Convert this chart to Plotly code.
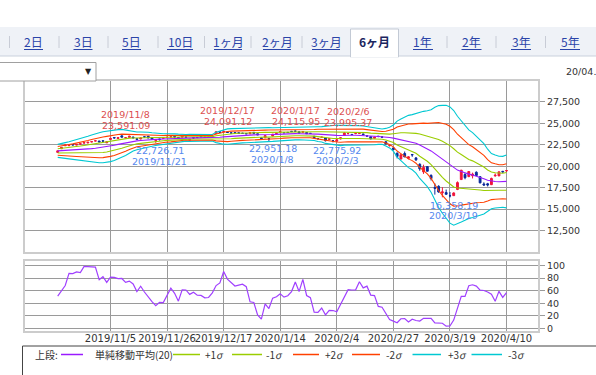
import plotly.graph_objects as go
import pandas as pd

# ---------------- data ----------------
dates = [
    "2019/10/11", "2019/10/15", "2019/10/16", "2019/10/17", "2019/10/18", "2019/10/21", "2019/10/23",
    "2019/10/24", "2019/10/25", "2019/10/28", "2019/10/29", "2019/10/30", "2019/10/31", "2019/11/1",
    "2019/11/5", "2019/11/6", "2019/11/7", "2019/11/8", "2019/11/11", "2019/11/12", "2019/11/13",
    "2019/11/14", "2019/11/15", "2019/11/18", "2019/11/19", "2019/11/20", "2019/11/21", "2019/11/22",
    "2019/11/25", "2019/11/26", "2019/11/27", "2019/11/28", "2019/11/29", "2019/12/2", "2019/12/3",
    "2019/12/4", "2019/12/5", "2019/12/6", "2019/12/9", "2019/12/10", "2019/12/11", "2019/12/12",
    "2019/12/13", "2019/12/16", "2019/12/17", "2019/12/18", "2019/12/19", "2019/12/20", "2019/12/23",
    "2019/12/24", "2019/12/25", "2019/12/26", "2019/12/27", "2019/12/30", "2020/1/6", "2020/1/7",
    "2020/1/8", "2020/1/9", "2020/1/10", "2020/1/14", "2020/1/15", "2020/1/16", "2020/1/17",
    "2020/1/20", "2020/1/21", "2020/1/22", "2020/1/23", "2020/1/24", "2020/1/27", "2020/1/28",
    "2020/1/29", "2020/1/30", "2020/1/31", "2020/2/3", "2020/2/4", "2020/2/5", "2020/2/6",
    "2020/2/7", "2020/2/10", "2020/2/12", "2020/2/13", "2020/2/14", "2020/2/17", "2020/2/18",
    "2020/2/19", "2020/2/20", "2020/2/21", "2020/2/25", "2020/2/26", "2020/2/27", "2020/2/28",
    "2020/3/2", "2020/3/3", "2020/3/4", "2020/3/5", "2020/3/6", "2020/3/9", "2020/3/10",
    "2020/3/11", "2020/3/12", "2020/3/13", "2020/3/16", "2020/3/17", "2020/3/18", "2020/3/19",
    "2020/3/23", "2020/3/24", "2020/3/25", "2020/3/26", "2020/3/27", "2020/3/30", "2020/3/31",
    "2020/4/1", "2020/4/2", "2020/4/3", "2020/4/6", "2020/4/7", "2020/4/8", "2020/4/9", "2020/4/10",
]
opens = [
    21613, 22036, 22392, 22398, 22513, 22467, 22579, 22697, 22714, 22833, 22935, 22948, 22971, 22734,
    23118, 23343, 23242, 23550, 23314, 23361, 23413, 23212, 23175, 23426, 23505, 23313, 23007, 23181,
    23258, 23373, 23427, 23464, 23348, 23388, 23413, 23042, 23327, 23364, 23520, 23375, 23407, 23499,
    23801, 24017, 24019, 24004, 23898, 23930, 23911, 23857, 23821, 23786, 23956, 23790, 23319, 23320,
    23217, 23530, 23813, 23969, 23918, 23959, 24074, 24093, 24022, 23952, 23936, 23834, 23494, 23224,
    23377, 23306, 23138, 22973, 22908, 23183, 23590, 23821, 23713, 23823, 23806, 23767, 23549, 23447,
    23263, 23491, 23427, 22863, 22404, 22137, 21510, 20834, 21483, 20918, 21372, 20970, 20226, 19343,
    19958, 18936, 17504, 17656, 16899, 16933, 16562, 16570, 17297, 18447, 19039, 18795, 18884, 19300,
    18784, 17934, 17952, 17857, 18878, 18874, 19406, 19466,
]
highs = [
    21815, 22219, 22497, 22532, 22549, 22564, 22661, 22779, 22808, 22896, 23008, 22948, 22971, 22901,
    23328, 23352, 23356, 23591.09, 23363, 23534, 23416, 23232, 23317, 23463, 23520, 23359, 23060, 23202,
    23350, 23409, 23608, 23486, 23350, 23544, 23430, 23152, 23336, 23379, 23543, 23441, 23425, 23500,
    24050, 24028, 24091.12, 24005, 23902, 23930, 23923, 23889, 23848, 23924, 23967, 23790, 23365, 23577,
    23303, 23767, 23903, 24059, 23997, 23977, 24115.95, 24107, 24060, 24059, 23953, 23880, 23494, 23291,
    23469, 23323, 23257, 23001, 23172, 23341, 23995.37, 23873, 23763, 23868, 23888, 23789, 23580, 23451,
    23430, 23506, 23430, 22892, 22540, 22176, 21622, 21344, 21719, 21180, 21399, 21079, 20346, 20180,
    19996, 19052, 18007, 17785, 17557, 17285, 16995, 16960, 18232, 19564, 19199, 19389, 19254, 19405,
    18784, 18132, 18059, 18672, 19162, 19353, 19454, 19535,
]
lows = [
    21579, 22029, 22358, 22390, 22426, 22447, 22523, 22650, 22694, 22801, 22910, 22775, 22809, 22705,
    23090, 23226, 23191, 23374, 23233, 23353, 23243, 23058, 23147, 23332, 23292, 23092, 22726.71, 22998,
    23227, 23293, 23346, 23386, 23239, 23379, 23315, 23045, 23202, 23271, 23423, 23319, 23332, 23416,
    23796, 23924, 24002, 23920, 23843, 23801, 23800, 23814, 23751, 23785, 23824, 23656, 23148, 23299,
    22951.18, 23506, 23761, 23943, 23837, 23878, 24012, 24044, 23831, 23936, 23764, 23761, 23256, 23115,
    23352, 22892, 23044, 22775.92, 22907, 23140, 23564, 23687, 23655, 23728, 23761, 23645, 23495, 23149,
    23263, 23380, 23318, 22559, 22292, 21948, 20916, 20834, 21082, 20798, 21100, 20613, 19472, 19104,
    19404, 18339, 16690, 16914, 16378, 16726, 16358.19, 16570, 17216, 18447, 18482, 18725, 18578, 18917,
    18004, 17707, 17646, 17802, 18785, 18874, 19241, 19332,
]
closes = [
    21798.87, 22207.21, 22472.92, 22451.86, 22492.68, 22548.90, 22625.38, 22750.60, 22799.81, 22867.27,
    22974.13, 22843.12, 22927.04, 22850.77, 23251.99, 23303.82, 23330.32, 23391.87, 23331.84, 23520.01,
    23319.87, 23141.55, 23303.32, 23416.76, 23292.65, 23148.57, 23038.58, 23112.88, 23292.81, 23373.32,
    23437.77, 23409.14, 23293.91, 23529.50, 23379.81, 23135.23, 23300.09, 23354.40, 23430.70, 23410.19,
    23391.86, 23424.81, 24023.10, 23952.35, 24066.12, 23934.43, 23864.85, 23816.63, 23821.11, 23830.58,
    23782.87, 23924.92, 23837.72, 23656.62, 23204.86, 23575.72, 23204.76, 23739.87, 23850.57, 24025.17,
    23916.58, 23933.13, 24041.26, 24083.51, 23864.56, 24031.35, 23795.44, 23827.18, 23343.51, 23215.71,
    23379.40, 22977.75, 23205.18, 22971.94, 23084.59, 23319.56, 23873.59, 23827.98, 23685.98, 23861.21,
    23827.73, 23687.59, 23523.24, 23193.80, 23400.70, 23479.15, 23386.74, 22605.41, 22426.19, 21948.23,
    21142.96, 21344.08, 21082.73, 21100.06, 21329.12, 20749.75, 19698.76, 19867.12, 19416.06, 18559.63,
    17431.05, 17002.04, 17011.53, 16726.55, 16552.83, 16887.78, 18092.35, 19546.63, 18664.60, 19389.43,
    19084.97, 18917.01, 18065.41, 17818.72, 17820.19, 18576.30, 18950.18, 19353.24, 19345.77, 19498.50,
]
# closes of the 19 sessions before the first shown day (needed for the 20-day bands / RSI)
prior_closes = [
    21759.61, 21988.29, 22001.32, 21960.71, 22044.45, 22079.09, 22098.84, 22020.15, 22048.24, 21878.90,
    21755.84, 21885.24, 21778.61, 21341.74, 21410.20, 21375.25, 21587.78, 21456.38, 21551.98,
]
tick_dates = ["2019/11/5", "2019/11/26", "2019/12/17", "2020/1/14", "2020/2/4", "2020/2/27", "2020/3/19", "2020/4/10"]
price_ticks = [12500, 15000, 17500, 20000, 22500, 25000, 27500]
rsi_ticks = [0, 20, 40, 60, 80, 100]
high_marks = ["2019/11/8", "2019/12/17", "2020/1/17", "2020/2/6"]
low_marks = ["2019/11/21", "2020/1/8", "2020/2/3", "2020/3/19"]
tabs = ["2日", "3日", "5日", "10日", "1ヶ月", "2ヶ月", "3ヶ月", "6ヶ月", "1年", "2年", "3年", "5年"]
active_tab = "6ヶ月"

# ---------------- indicators ----------------
n = len(closes)
allc = pd.Series(prior_closes + closes)
sma = allc.rolling(20).mean()
sd = allc.rolling(20).std()
diff = allc.diff()
up = diff.clip(lower=0).rolling(9).sum()
dn = (-diff).clip(lower=0).rolling(9).sum()
rsi = (100 * up / (up + dn)).tolist()[-n:]

def tail(s):
    return s.tolist()[-n:]

x = list(range(n))

W, H = 596, 375
def px(v):
    return v / W
def py(v):
    return 1 - v / H

RED = "#f0143c"
BLUE = "#0a2a9a"
C_SMA = "#9a1aff"
C_1 = "#9acd00"
C_2 = "#ff4000"
C_3 = "#00c8d2"
GRID = "#9a9a9a"
BORDER = "#cccccc"
FONT = "DejaVu Sans"
JP = "Noto Sans CJK JP"

fig = go.Figure()

bands = [
    (tail(sma + 3 * sd), C_3), (tail(sma - 3 * sd), C_3),
    (tail(sma + 2 * sd), C_2), (tail(sma - 2 * sd), C_2),
    (tail(sma + 1 * sd), C_1), (tail(sma - 1 * sd), C_1),
    (tail(sma), C_SMA),
]
for yy, c in bands:
    fig.add_trace(go.Scatter(x=x, y=yy, mode="lines", line=dict(color=c, width=1.1),
                             showlegend=False, hoverinfo="skip", xaxis="x", yaxis="y"))

fig.add_trace(go.Candlestick(
    x=x, open=opens, high=highs, low=lows, close=closes,
    increasing=dict(line=dict(color=RED, width=1), fillcolor=RED),
    decreasing=dict(line=dict(color=BLUE, width=1), fillcolor=BLUE),
    whiskerwidth=0, showlegend=False, hoverinfo="skip", xaxis="x", yaxis="y"))

fig.add_trace(go.Scatter(x=x, y=rsi, mode="lines", line=dict(color="#a040ff", width=1.2),
                         showlegend=False, hoverinfo="skip", xaxis="x2", yaxis="y2"))

tickvals = [dates.index(d) for d in tick_dates]
xr = [-8.67, 127.35]
xdom = [px(25), px(538)]

common_x = dict(range=xr, domain=xdom, tickvals=tickvals, showgrid=True, gridcolor=GRID, gridwidth=1,
                zeroline=False, showline=True, linecolor=BORDER, linewidth=2, mirror=True,
                rangeslider=dict(visible=False), automargin=False, tickangle=0)
common_y = dict(side="right", showgrid=True, gridcolor=GRID, gridwidth=1, zeroline=False,
                showline=True, linecolor=BORDER, linewidth=2, mirror=True,
                ticks="outside", ticklen=5, tickcolor=GRID, automargin=False,
                tickfont=dict(family=FONT, size=9.5, color="#333"))
fig.update_layout(
    width=W, height=H, margin=dict(l=0, r=0, t=0, b=0, pad=0), autosize=False,
    paper_bgcolor="white", plot_bgcolor="white",
    xaxis=dict(**common_x, anchor="y", showticklabels=False, ticks=""),
    xaxis2=dict(**common_x, anchor="y2", ticktext=tick_dates, ticks="", ticklabelstandoff=-3,
                tickfont=dict(family=FONT, size=10, color="#333")),
    yaxis=dict(**common_y, domain=[py(252), py(80.5)], range=[10000, 30000],
               tickvals=price_ticks, ticktext=[f"{v:,}" for v in price_ticks], anchor="x"),
    yaxis2=dict(**common_y, domain=[py(331), py(260.7)], range=[-4, 107.6],
                tickvals=rsi_ticks, anchor="x2"),
    showlegend=False,
)

ann = []
shapes = []

def ptext(xp, yp, text, size, color, family, xanchor="center"):
    ann.append(dict(x=px(xp), y=py(yp), xref="paper", yref="paper", text=text, showarrow=False,
                    xanchor=xanchor, yanchor="middle", font=dict(family=family, size=size, color=color)))

# high / low labels
HC = "#dc5050"
LC = "#5588ee"
for d in high_marks:
    i = dates.index(d)
    ann.append(dict(x=i, y=highs[i], xref="x", yref="y", text=f"{highs[i]:,.2f}", showarrow=False,
                    xanchor="center", yanchor="middle",
                    xshift=4, yshift=9.5, font=dict(family=FONT, size=9.5, color=HC)))
    ann.append(dict(x=i, y=highs[i], xref="x", yref="y", text=d, showarrow=False,
                    xanchor="center", yanchor="middle",
                    xshift=4, yshift=20.5, font=dict(family=FONT, size=9.5, color=HC)))
for d in low_marks:
    i = dates.index(d)
    ann.append(dict(x=i, y=lows[i], xref="x", yref="y", text=f"{lows[i]:,.2f}", showarrow=False,
                    xanchor="center", yanchor="middle",
                    xshift=4, yshift=-8, font=dict(family=FONT, size=9.5, color=LC)))
    ann.append(dict(x=i, y=lows[i], xref="x", yref="y", text=d, showarrow=False,
                    xanchor="center", yanchor="middle",
                    xshift=4, yshift=-18.5, font=dict(family=FONT, size=9.5, color=LC)))

# tab bar
shapes.append(dict(type="rect", xref="paper", yref="paper", x0=0, x1=1, y0=py(56), y1=py(27),
                   fillcolor="#eff2f7", line=dict(width=0), layer="below"))
shapes.append(dict(type="line", xref="paper", yref="paper", x0=0, x1=1, y0=py(56), y1=py(56),
                   line=dict(color="#c9d1dc", width=1)))
shapes.append(dict(type="rect", xref="paper", yref="paper", x0=px(350.5), x1=px(398.5), y0=py(57), y1=py(29),
                   fillcolor="white", line=dict(color="#c3cad5", width=1)))
shapes.append(dict(type="line", xref="paper", yref="paper", x0=px(351), x1=px(398), y0=py(56.5), y1=py(56.5),
                   line=dict(color="white", width=2)))
for sx in [9.5, 59, 108, 158, 204.5, 251, 302, 447, 496, 545.5]:
    shapes.append(dict(type="line", xref="paper", yref="paper", x0=px(sx), x1=px(sx), y0=py(48), y1=py(36),
                       line=dict(color="#c8ccd6", width=1)))
tab_x = [33.5, 83, 131.5, 180, 228, 277, 326, 374.5, 423, 471.5, 521, 570]
tab_w = [19, 19, 19, 26, 28, 28, 28, 32, 20, 20, 20, 20]
for t, tx, tw in zip(tabs, tab_x, tab_w):
    if t == active_tab:
        ptext(tx, 42, f"<b>{t}</b>", 12, "#1c2660", JP)
    else:
        ptext(tx, 42, t, 12, "#2a44a8", JP)
        shapes.append(dict(type="line", xref="paper", yref="paper", x0=px(tx - tw / 2), x1=px(tx + tw / 2),
                           y0=py(49.5), y1=py(49.5), line=dict(color="#2a44a8", width=1)))

# dropdown and date
shapes.append(dict(type="rect", xref="paper", yref="paper", x0=px(-2), x1=px(96), y0=py(81), y1=py(62.5),
                   fillcolor="white", line=dict(color="#a0a0a0", width=1)))
ptext(88, 71.5, "▼", 8, "#222", FONT)
ptext(564, 72, "20/04.", 9.5, "#333", FONT, xanchor="left")

# legend box
shapes.append(dict(type="rect", xref="paper", yref="paper", x0=px(22.5), x1=px(620), y0=py(400), y1=py(346),
                   line=dict(color="#444", width=1)))
leg_y = 354.5
leg_items = [
    ("line", 61, 83, C_SMA), ("text", 93, "単純移動平均(20)"),
    ("line", 173, 200, C_1), ("text", 203, "+1<i>σ</i>"),
    ("line", 232, 262, C_1), ("text", 264, "-1<i>σ</i>"),
    ("line", 293, 319, C_2), ("text", 323, "+2<i>σ</i>"),
    ("line", 352, 380, C_2), ("text", 384, "-2<i>σ</i>"),
    ("line", 412.5, 441, C_3), ("text", 445.5, "+3<i>σ</i>"),
    ("line", 471.5, 502, C_3), ("text", 505.5, "-3<i>σ</i>"),
]
ptext(33, leg_y, "上段:", 10, "#333", JP, xanchor="left")
for it in leg_items:
    if it[0] == "line":
        shapes.append(dict(type="line", xref="paper", yref="paper", x0=px(it[1]), x1=px(it[2]),
                           y0=py(leg_y), y1=py(leg_y), line=dict(color=it[3], width=1.5)))
    else:
        ptext(it[1], leg_y, it[2], 10, "#333", JP, xanchor="left")

fig.update_layout(annotations=ann, shapes=shapes)
fig.write_html("out.html", config={"displayModeBar": False},
               post_script="document.body.style.margin='0px';document.body.style.padding='0px';")
